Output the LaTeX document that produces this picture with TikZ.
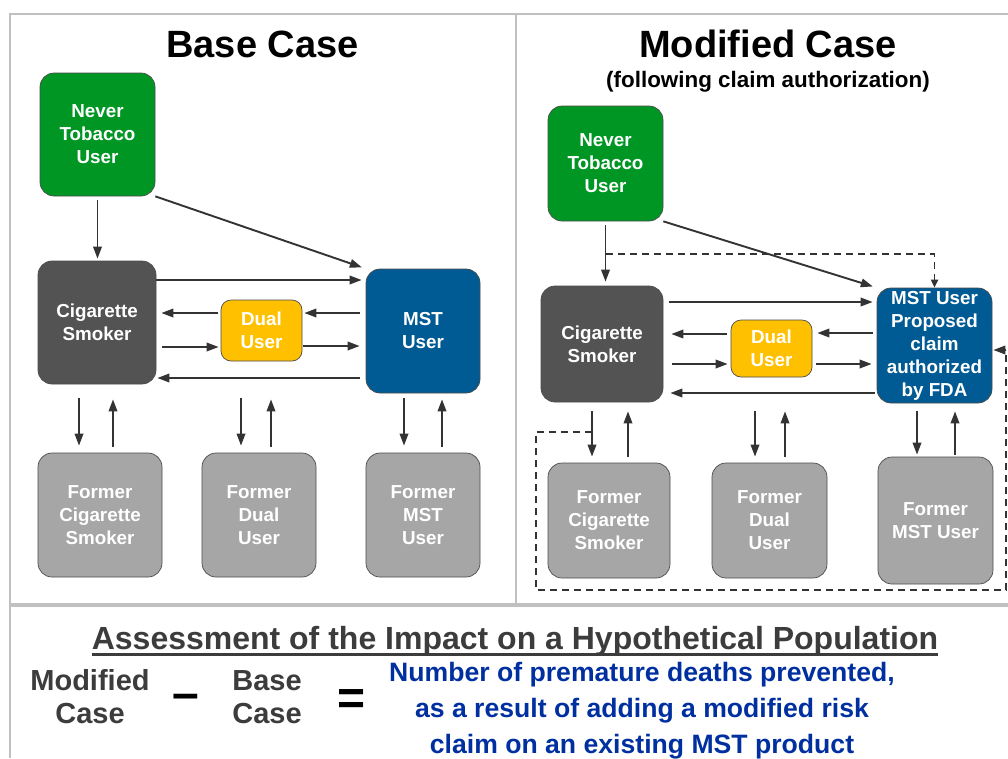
\documentclass[tikz,border=0pt]{standalone}
\usepackage{fontspec}
\setmainfont{Liberation Sans}
\usepackage{tikz}
\usetikzlibrary{arrows.meta}

\definecolor{nevergreen}{RGB}{0,150,36}
\definecolor{cigdark}{RGB}{83,83,83}
\definecolor{dualyellow}{RGB}{255,192,0}
\definecolor{mstblue}{RGB}{0,90,148}
\definecolor{formergray}{RGB}{166,166,166}
\definecolor{framegray}{RGB}{192,192,192}
\definecolor{arrowgray}{RGB}{51,51,51}
\definecolor{textgray}{RGB}{60,60,60}
\definecolor{resultblue}{RGB}{0,48,160}

\begin{document}
\begin{tikzpicture}[x=1pt,y=-1pt,
  box/.style={draw=black!70,line width=0.7pt,rounded corners=14pt,inner sep=0pt,
    align=center,text=white,font=\bfseries\fontsize{18.8}{23}\selectfont},
  arr/.style={-{Triangle[length=12pt,width=8.5pt]},line width=1.9pt,arrowgray},
  dashline/.style={line width=1.8pt,arrowgray,dash pattern=on 7pt off 5pt},
  frame/.style={line width=2.5pt,framegray}]

  \useasboundingbox[fill=white] (0,0) rectangle (1008,758);

  \draw[frame] (10,758) -- (10,14) -- (1008,14);
  \draw[frame] (516,14) -- (516,605);
  \draw[frame,line width=3.5pt] (10,605) -- (1008,605);

  \node[font=\bfseries\fontsize{38}{38}\selectfont,anchor=base] (basetitle) at (262.5,57) {Base Case};
  \node[font=\bfseries\fontsize{38}{38}\selectfont,anchor=base] (modtitle) at (768,57) {Modified Case};
  \node[font=\bfseries\fontsize{22.4}{26}\selectfont,anchor=base] (modsub) at (768,87) {(following claim authorization)};

  \node[box,fill=nevergreen,minimum width=115pt,minimum height=123pt] (bnever) at (97.5,134.5) {Never\\Tobacco\\User};
  \node[box,fill=cigdark,minimum width=118pt,minimum height=123pt] (bcig) at (97,322.5) {Cigarette\\Smoker};
  \node[box,fill=dualyellow,rounded corners=10pt,minimum width=81pt,minimum height=61pt] (bdual) at (261.5,330.5) {Dual\\User};
  \node[box,fill=mstblue,minimum width=114pt,minimum height=124pt] (bmst) at (423,331) {MST\\User};
  \node[box,fill=formergray,minimum width=124pt,minimum height=124pt] (bfcig) at (100,515) {Former\\Cigarette\\Smoker};
  \node[box,fill=formergray,minimum width=114pt,minimum height=124pt] (bfdual) at (259,515) {Former\\Dual\\User};
  \node[box,fill=formergray,minimum width=114pt,minimum height=124pt] (bfmst) at (423,515) {Former\\MST\\User};

  \draw[arr,shorten <=4pt,shorten >=2pt] (bnever.south) -- (bnever.south |- bcig.north);
  \draw[arr,shorten >=4pt] (bnever.south east) -- (bmst.north west);
  \draw[arr,shorten >=4pt] ([yshift=42.5pt]bcig.east) -- ([yshift=42.5pt]bcig.east -| bmst.west);
  \draw[arr,shorten <=3pt,shorten >=5pt] ([yshift=9.5pt]bcig.east -| bdual.west) -- ([yshift=9.5pt]bcig.east);
  \draw[arr,shorten <=6pt,shorten >=2pt] ([yshift=-24.5pt]bcig.east) -- ([yshift=-24.5pt]bcig.east -| bdual.west);
  \draw[arr,shorten <=6pt,shorten >=2pt] ([yshift=17.5pt]bdual.east -| bmst.west) -- ([yshift=17.5pt]bdual.east);
  \draw[arr,shorten <=1pt,shorten >=6pt] ([yshift=-15.5pt]bdual.east) -- ([yshift=-15.5pt]bdual.east -| bmst.west);
  \draw[arr,shorten <=6pt,shorten >=1pt] ([yshift=-55.5pt]bcig.east -| bmst.west) -- ([yshift=-55.5pt]bcig.east);

  \draw[arr,shorten <=14pt,shorten >=7pt] ([xshift=-21pt]bfcig.north |- bcig.south) -- ([xshift=-21pt]bfcig.north);
  \draw[arr,shorten <=6pt,shorten >=15pt] ([xshift=13pt]bfcig.north) -- ([xshift=13pt]bfcig.north |- bcig.south);
  \draw[arr,shorten <=14pt,shorten >=7pt] ([xshift=-18pt]bfdual.north |- bcig.south) -- ([xshift=-18pt]bfdual.north);
  \draw[arr,shorten <=6pt,shorten >=15pt] ([xshift=12pt]bfdual.north) -- ([xshift=12pt]bfdual.north |- bcig.south);
  \draw[arr,shorten <=14pt,shorten >=7pt] ([xshift=-19pt]bfmst.north |- bcig.south) -- ([xshift=-19pt]bfmst.north);
  \draw[arr,shorten <=6pt,shorten >=15pt] ([xshift=19pt]bfmst.north) -- ([xshift=19pt]bfmst.north |- bcig.south);

  \node[box,fill=nevergreen,minimum width=115pt,minimum height=115pt] (mnever) at (605.5,163.5) {Never\\Tobacco\\User};
  \node[box,fill=cigdark,minimum width=122pt,minimum height=116pt] (mcig) at (602,344) {Cigarette\\Smoker};
  \node[box,fill=dualyellow,rounded corners=10pt,minimum width=81pt,minimum height=57pt] (mdual) at (771.5,348.5) {Dual\\User};
  \node[box,fill=mstblue,minimum width=115pt,minimum height=115pt] (mmst) at (934.5,345.5) {MST User\\Proposed\\claim\\authorized\\by FDA};
  \node[box,fill=formergray,minimum width=122pt,minimum height=115pt] (mfcig) at (609,520.5) {Former\\Cigarette\\Smoker};
  \node[box,fill=formergray,minimum width=115pt,minimum height=115pt] (mfdual) at (769.5,520.5) {Former\\Dual\\User};
  \node[box,fill=formergray,minimum width=115pt,minimum height=127pt] (mfmst) at (935.5,520.5) {Former\\MST User};

  \draw[arr,shorten <=4pt,shorten >=4pt] (mnever.south) -- (mnever.south |- mcig.north);
  \draw[arr,shorten >=4pt] (mnever.south east) -- (mmst.north west);
  \draw[arr,shorten <=6pt,shorten >=4pt] ([yshift=42pt]mcig.east) -- ([yshift=42pt]mcig.east -| mmst.west);
  \draw[arr,shorten <=4pt,shorten >=8pt] ([yshift=10pt]mcig.east -| mdual.west) -- ([yshift=10pt]mcig.east);
  \draw[arr,shorten <=9pt,shorten >=3pt] ([yshift=-20pt]mcig.east) -- ([yshift=-20pt]mcig.east -| mdual.west);
  \draw[arr,shorten <=4pt,shorten >=5pt] ([yshift=15.5pt]mdual.east -| mmst.west) -- ([yshift=15.5pt]mdual.east);
  \draw[arr,shorten <=4pt,shorten >=5pt] ([yshift=-15.5pt]mdual.east) -- ([yshift=-15.5pt]mdual.east -| mmst.west);
  \draw[arr,shorten <=2pt,shorten >=7pt] ([yshift=-49pt]mcig.east -| mmst.west) -- ([yshift=-49pt]mcig.east);

  \draw[arr,shorten <=9pt,shorten >=6pt] ([xshift=-17pt]mfcig.north |- mcig.south) -- ([xshift=-17pt]mfcig.north);
  \draw[arr,shorten <=6pt,shorten >=9pt] ([xshift=19pt]mfcig.north) -- ([xshift=19pt]mfcig.north |- mcig.south);
  \draw[arr,shorten <=9pt,shorten >=6pt] ([xshift=-14.5pt]mfdual.north |- mcig.south) -- ([xshift=-14.5pt]mfdual.north);
  \draw[arr,shorten <=6pt,shorten >=9pt] ([xshift=15.5pt]mfdual.north) -- ([xshift=15.5pt]mfdual.north |- mcig.south);
  \draw[arr,shorten <=9pt,shorten >=2pt] ([xshift=-18.5pt]mfmst.north |- mcig.south) -- ([xshift=-18.5pt]mfmst.north);
  \draw[arr,shorten <=2pt,shorten >=9pt] ([xshift=19.5pt]mfmst.north) -- ([xshift=19.5pt]mfmst.north |- mcig.south);

  \coordinate (tap1) at (606,254);
  \coordinate (tap2) at (592,432);
  \coordinate (loopend) at (1006,350);
  \draw[dashline,-{Triangle[length=8pt,width=7pt]}] (tap1) -| (mmst.north);
  \draw[dashline] (tap2) -| (536,590) -| (loopend);
  \draw[arr,shorten >=1pt] (loopend) -- (loopend -| mmst.east);

  \node[font=\bfseries\fontsize{32}{32}\selectfont,text=textgray,anchor=base,inner sep=0pt] (assess) at (515,649) {Assessment of the Impact on a Hypothetical Population};
  \draw[line width=2.2pt,textgray] ([yshift=-5.5pt]assess.base west) -- ([yshift=-5.5pt]assess.base east);

  \node[font=\bfseries\fontsize{29}{33}\selectfont,text=textgray,align=center] (modcase) at (90,697) {Modified\\Case};
  \node[font=\bfseries\fontsize{48}{48}\selectfont,anchor=base] (minussign) at (186,709.5) {–};
  \node[font=\bfseries\fontsize{29}{33}\selectfont,text=textgray,align=center] (basecase) at (267,697) {Base\\Case};
  \node[font=\bfseries\fontsize{48}{48}\selectfont,anchor=base] (equalsign) at (352,714) {=};
  \node[font=\bfseries\fontsize{26.6}{36}\selectfont,text=resultblue,align=center] (result) at (642,711) {Number of premature deaths prevented,\\as a result of adding a modified risk\\claim on an existing MST product};
\end{tikzpicture}
\end{document}
